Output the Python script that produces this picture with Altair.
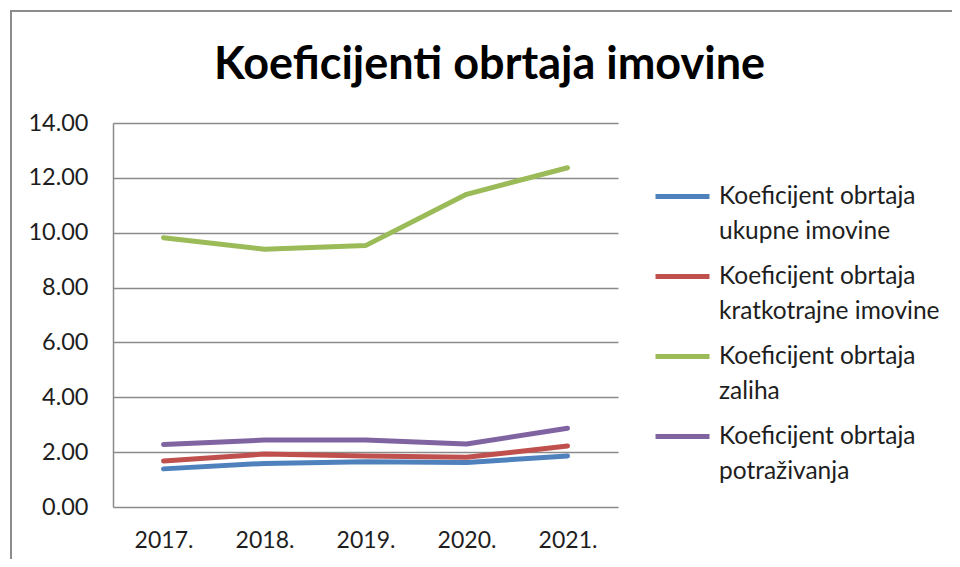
import altair as alt
import pandas as pd

years = ["2017.", "2018.", "2019.", "2020.", "2021."]
series = [
    "Koeficijent obrtaja ukupne imovine",
    "Koeficijent obrtaja kratkotrajne imovine",
    "Koeficijent obrtaja zaliha",
    "Koeficijent obrtaja potraživanja",
]
ukupne = [1.39, 1.59, 1.65, 1.62, 1.86]
kratkotrajne = [1.68, 1.93, 1.86, 1.81, 2.22]
zaliha = [9.82, 9.40, 9.53, 11.40, 12.37]
potrazivanja = [2.28, 2.44, 2.44, 2.30, 2.87]
colors = ["#4F81BD", "#C0504D", "#9BBB59", "#8064A2"]
y_ticks = [0, 2, 4, 6, 8, 10, 12, 14]

values = [ukupne, kratkotrajne, zaliha, potrazivanja]
rows = []
for s, vals in zip(series, values):
    for yr, v in zip(years, vals):
        rows.append({"Godina": yr, "Serija": s, "Vrijednost": v})
df = pd.DataFrame(rows)

FONT = "Lato"
GRID = "#8a8a8a"
TEXT = "#1e1e1e"
FRAME = "#8c8c8c"

one = pd.DataFrame({"f": [0]})
frame_top = alt.Chart(one).mark_rule(stroke=FRAME, strokeWidth=2).encode(
    x=alt.value(-103), x2=alt.value(839), y=alt.value(-112)
)
frame_left = alt.Chart(one).mark_rule(stroke=FRAME, strokeWidth=2).encode(
    x=alt.value(-102), y=alt.value(-112), y2=alt.value(436)
)

lines = alt.Chart(df).mark_line(strokeWidth=5, strokeCap="round", strokeJoin="round").encode(
    x=alt.X("Godina:O", sort=years, scale=alt.Scale(padding=0.5),
            axis=alt.Axis(title=None, labelAngle=0, domain=False, ticks=False, tickSize=0,
                          labelPadding=22, labelFontSize=23, labelFont=FONT, labelColor=TEXT,
                          grid=False)),
    y=alt.Y("Vrijednost:Q", scale=alt.Scale(domain=[0, 14], nice=False, zero=True),
            axis=alt.Axis(title=None, values=y_ticks, format=".2f", ticks=False, tickSize=0,
                          labelPadding=25, labelFontSize=23.5, labelFont=FONT, labelColor=TEXT,
                          domain=True, domainColor=GRID, domainWidth=1.5,
                          grid=True, gridColor=GRID, gridWidth=1.5)),
    color=alt.Color("Serija:N", sort=series,
                    scale=alt.Scale(domain=series, range=colors),
                    legend=alt.Legend(title=None, orient="none", legendX=540, legendY=44,
                                      symbolType="stroke", symbolSize=2916, symbolStrokeWidth=5,
                                      labelFontSize=24.5, labelFont=FONT, labelColor=TEXT,
                                      labelOffset=7, labelLimit=400, rowPadding=4,
                                      labelBaseline="middle",
                                      labelExpr="['Koeficijent obrtaja', substring(datum.label, 20)]")),
)

chart = alt.layer(frame_top, frame_left, lines).properties(
    width=505, height=384,
    autosize=alt.AutoSizeParams(type="none"),
    padding={"left": 105, "top": 115, "right": 334, "bottom": 52},
    title=alt.TitleParams("Koeficijenti obrtaja imovine", font=FONT, fontSize=45,
                          fontWeight="bold", color="#000000", anchor="middle",
                          frame="group", dx=124, dy=114, offset=0, baseline="alphabetic"),
).configure(style={"guide-label": {"lineHeight": 35}}).configure_view(stroke=None)

chart.save("out.html", embed_options={"renderer": "svg", "actions": False})
